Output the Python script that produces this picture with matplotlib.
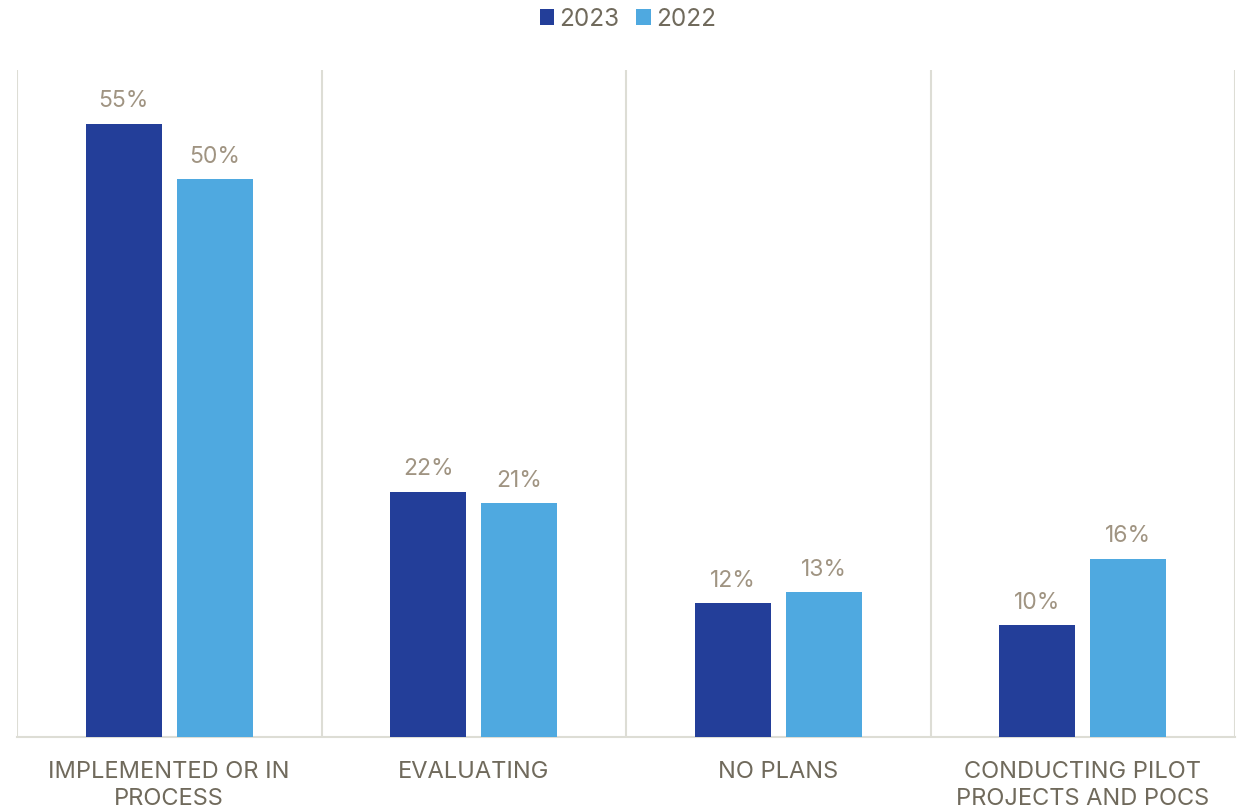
import matplotlib.pyplot as plt
import numpy as np

plt.rcParams['font.family'] = ['Inter', 'DejaVu Sans']

categories = ["IMPLEMENTED OR IN\nPROCESS", "EVALUATING", "NO PLANS",
              "CONDUCTING PILOT\nPROJECTS AND POCS"]
vals_2023 = [55, 22, 12, 10]
vals_2022 = [50, 21, 13, 16]
series_names = ["2023", "2022"]

c23 = "#233E99"
c22 = "#4FA9E0"
label_col = "#A09482"
text_col = "#706A5C"
grid_col = "#DDDDD5"

fig = plt.figure(figsize=(12.43, 8.08), dpi=100)
ax = fig.add_axes([17 / 1243, 71 / 808, 1218 / 1243, 667 / 808])

x = np.arange(len(categories))
w = 0.25
b1 = ax.bar(x - 0.15, vals_2023, w, color=c23, label=series_names[0], zorder=3)
b2 = ax.bar(x + 0.15, vals_2022, w, color=c22, label=series_names[1], zorder=3)

for bars, vals in ((b1, vals_2023), (b2, vals_2022)):
    for r, v in zip(bars, vals):
        ax.text(r.get_x() + r.get_width() / 2, v + 1.0, f"{v}%",
                ha="center", va="bottom", fontsize=16.5, color=label_col)

ax.set_xlim(-0.5, len(categories) - 0.5)
ax.set_ylim(0, 59.8)

# category separators
for s in np.arange(-0.5, len(categories), 1.0):
    ax.axvline(s, color=grid_col, lw=1.5, zorder=1)

for sp in ["top", "right", "left"]:
    ax.spines[sp].set_visible(False)
ax.spines["bottom"].set_color(grid_col)
ax.spines["bottom"].set_linewidth(1.5)

ax.set_yticks([])
ax.set_xticks(x)
ax.set_xticklabels(categories, fontsize=17, color=text_col, linespacing=1.32)
ax.tick_params(axis="x", length=0, pad=17)

leg = fig.legend(handles=[b1, b2], labels=series_names, loc="center",
                 bbox_to_anchor=(0.505, 1 - 19 / 808), ncol=2, frameon=False,
                 fontsize=17.5, handlelength=0.6, handleheight=0.6,
                 handletextpad=0.2, columnspacing=0.7)
for t in leg.get_texts():
    t.set_color(text_col)

fig.savefig("out.png", dpi=100)
